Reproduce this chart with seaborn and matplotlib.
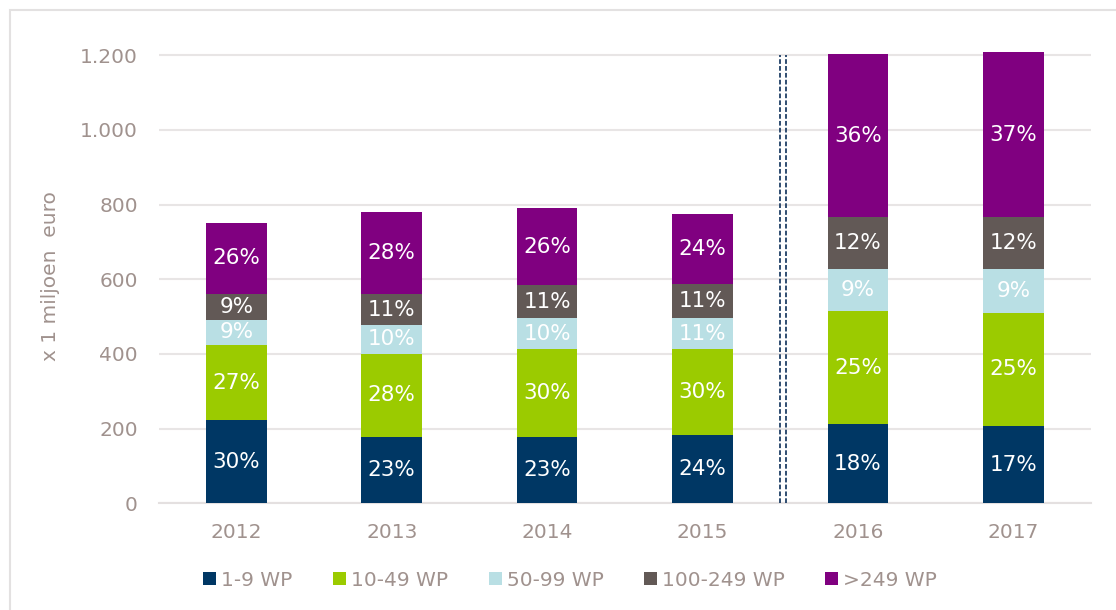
import numpy as np
import pandas as pd
import matplotlib
matplotlib.use('Agg')
import matplotlib.pyplot as plt
import seaborn as sns
from matplotlib.patches import Patch, Rectangle

# values (x 1 miljoen euro)
years = ['2012', '2013', '2014', '2015', '2016', '2017']
wp_1_9 = [222, 178, 178, 184, 212, 207]
wp_10_49 = [202, 222, 235, 229, 303, 303]
wp_50_99 = [68, 78, 83, 83, 112, 117]
wp_100_249 = [68, 82, 88, 92, 139, 139]
wp_249 = [192, 220, 206, 188, 438, 443]

lbl_1_9 = ['30%', '23%', '23%', '24%', '18%', '17%']
lbl_10_49 = ['27%', '28%', '30%', '30%', '25%', '25%']
lbl_50_99 = ['9%', '10%', '10%', '11%', '9%', '9%']
lbl_100_249 = ['9%', '11%', '11%', '11%', '12%', '12%']
lbl_249 = ['26%', '28%', '26%', '24%', '36%', '37%']

series_names = ['1-9 WP', '10-49 WP', '50-99 WP', '100-249 WP', '>249 WP']
colors = ['#003764', '#9BCB00', '#B9DFE4', '#625956', '#800080']
text_col = '#A0928E'

series = [wp_1_9, wp_10_49, wp_50_99, wp_100_249, wp_249]
labels = [lbl_1_9, lbl_10_49, lbl_50_99, lbl_100_249, lbl_249]

sns.set_theme(style='white')
plt.rcParams['font.family'] = ['DejaVu Sans']

fig = plt.figure(figsize=(11.16, 6.10), dpi=100)
ax = fig.add_axes([0.1421, 0.1749, 0.9776 - 0.1421, 0.9185 - 0.1749])

vals = np.array(series, dtype=float)
cum = np.cumsum(vals, axis=0)

# stacked bars: draw cumulative totals from the top down
for i in range(len(series) - 1, -1, -1):
    df = pd.DataFrame({'year': years, 'value': cum[i]})
    sns.barplot(data=df, x='year', y='value', color=colors[i], width=0.39,
                saturation=1, ax=ax, zorder=3, linewidth=0)

# percentage labels in the middle of each segment
for i in range(len(series)):
    bottoms = cum[i] - vals[i]
    for j in range(len(years)):
        ax.text(j, bottoms[j] + vals[i][j] / 2, labels[i][j],
                ha='center', va='center', color='white',
                fontsize=15.5, zorder=5)

# break marker between 2015 and 2016
for xv in [3.5, 3.536]:
    ax.plot([xv, xv], [0, 1200], color='#1F3F66', lw=1.3,
            linestyle=(0, (2.6, 1.2)), zorder=4)

ax.set_xlim(-0.5, 5.5)
ax.set_ylim(0, 1215)
ax.set_yticks(range(0, 1201, 200))
ax.set_yticklabels(['0', '200', '400', '600', '800', '1.000', '1.200'])
ax.yaxis.grid(True, color='#E8E5E5', lw=1.5, zorder=0)
ax.xaxis.grid(False)
for s in ['top', 'right', 'left']:
    ax.spines[s].set_visible(False)
ax.spines['bottom'].set_color('#E4E0E0')
ax.spines['bottom'].set_linewidth(1.5)
ax.tick_params(axis='y', length=0, pad=15, labelsize=14.5, labelcolor=text_col)
ax.tick_params(axis='x', length=0, pad=14, labelsize=14.5, labelcolor=text_col)
ax.set_xlabel('')
ax.set_ylabel('x 1 miljoen  euro', fontsize=14.5, color=text_col, labelpad=14)

handles = [Patch(facecolor=c, edgecolor='none') for c in colors]
fig.legend(handles, series_names, loc='center', bbox_to_anchor=(0.511, 0.049),
           ncol=5, frameon=False, fontsize=14.5, labelcolor=text_col,
           handlelength=0.65, handleheight=0.65, handletextpad=0.25,
           columnspacing=2.0)

# light frame around the chart area
fig.patches.append(Rectangle((0.009, -0.1), 1.2, 0.9836 + 0.1, fill=False,
                             edgecolor='#E3E1E1', lw=1.5,
                             transform=fig.transFigure, figure=fig))

fig.savefig('out.png', dpi=100)
